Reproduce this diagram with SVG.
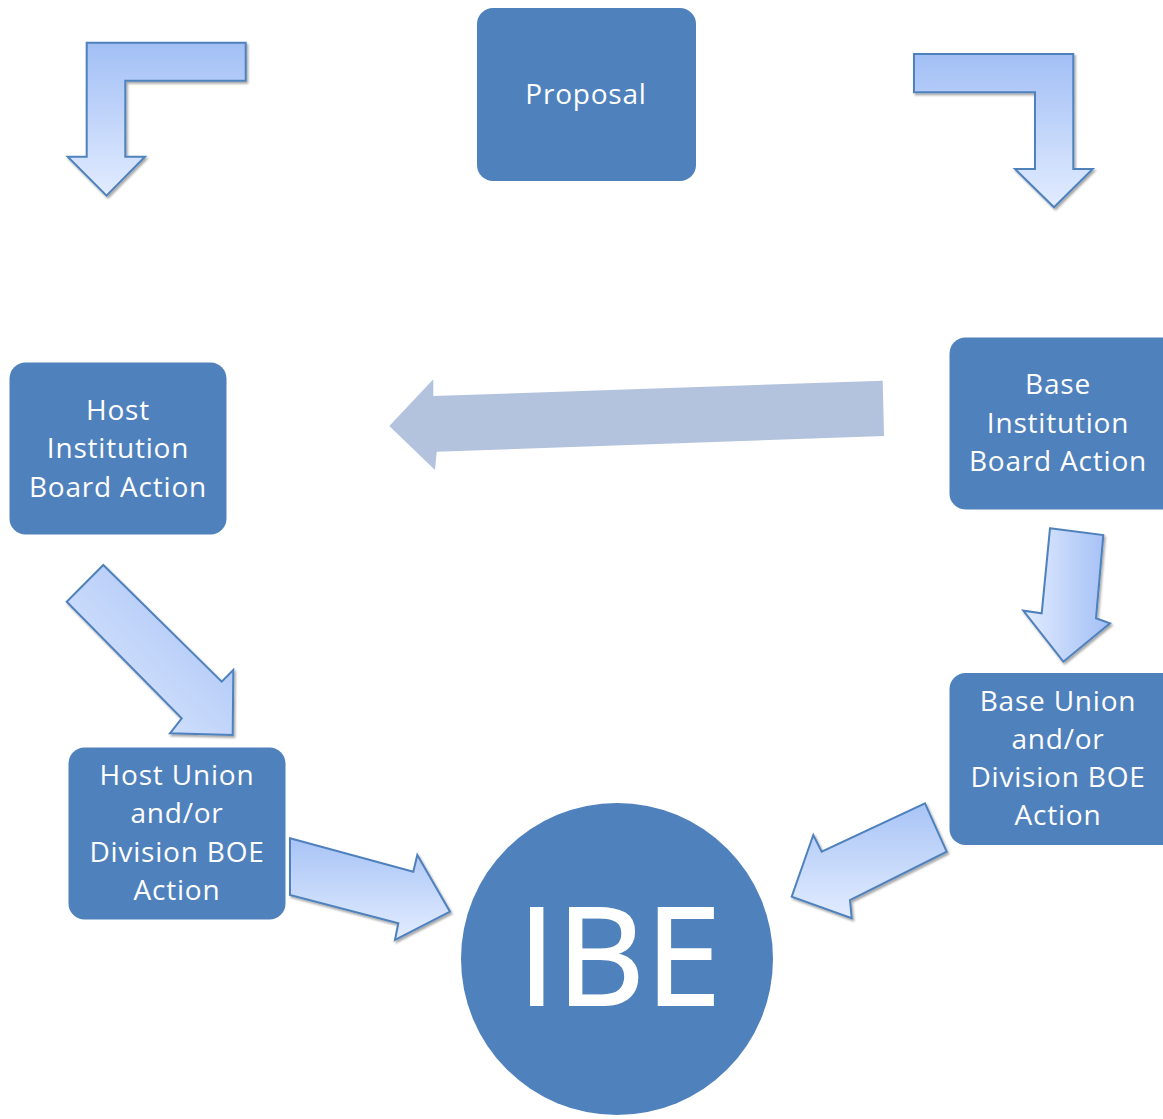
<svg xmlns="http://www.w3.org/2000/svg" width="1163" height="1119" viewBox="0 0 1163 1119">
<defs>
<linearGradient id="gv" x1="0" y1="0" x2="0" y2="1">
<stop offset="0" stop-color="#a2bff5"/>
<stop offset="1" stop-color="#e2ecff"/>
</linearGradient>
<linearGradient id="gdiag" x1="1" y1="0" x2="0" y2="1">
<stop offset="0" stop-color="#a2bff5"/>
<stop offset="1" stop-color="#e2ecff"/>
</linearGradient>
<linearGradient id="gh" x1="1" y1="0" x2="0" y2="0">
<stop offset="0" stop-color="#a2bff5"/>
<stop offset="1" stop-color="#e2ecff"/>
</linearGradient>
<linearGradient id="gup" x1="0" y1="0" x2="0" y2="1">
<stop offset="0" stop-color="#a8c4f6"/>
<stop offset="1" stop-color="#e2ecff"/>
</linearGradient>
<filter id="sh" x="-10%" y="-10%" width="130%" height="130%">
<feDropShadow dx="1.5" dy="2" stdDeviation="1" flood-color="#000" flood-opacity="0.35"/>
</filter>
</defs>
<style>
.box{fill:#4f81bd;}
.lbl{font-family:"Open Sans","Liberation Sans",sans-serif;font-size:28px;letter-spacing:0.8px;fill:#ffffff;text-anchor:middle;}
.arr{stroke:#4f81bd;stroke-width:2;stroke-linejoin:miter;filter:url(#sh);}
</style>

<g id="connectors">
<path class="arr" fill="url(#gv)" d="M86.7,42.7 L245.7,42.7 L245.7,80.7 L125.3,80.7 L125.3,156.7 L145,156.7 L106.5,195.7 L67.7,156.7 L86.7,156.7 Z"/>
<path class="arr" fill="url(#gv)" d="M914,54 L1073.3,54 L1073.3,169 L1092.7,169 L1054,207.3 L1015,169 L1035,169 L1035,92.3 L914,92.3 Z"/>
<path fill="#b3c3dd" d="M389.3,426 L433.3,379.3 L433.3,396 L882.7,380.7 L884,436 L436.7,451.7 L435,470 Z"/>
<path class="arr" fill="url(#gdiag)" d="M103.3,565 L221.7,681.7 L233.3,670 L232.7,735 L170,733.3 L181.7,718.3 L66.7,601.7 Z"/>
<path class="arr" fill="url(#gh)" d="M1050,528.3 L1103.3,535 L1096,618.3 L1110,623.3 L1063.3,661.7 L1023.3,610.7 L1041.7,613.3 Z"/>
<path class="arr" fill="url(#gup)" d="M290,838.3 L413.3,871.7 L417.3,855 L450,911.7 L395,940 L398.3,923.3 L290,895 Z"/>
<path class="arr" fill="url(#gup)" d="M925,803.3 L946.7,851.7 L850,900 L851.7,918.3 L791.7,896.7 L813.3,835 L821.7,851.7 Z"/>
</g>

<g id="proposal">
<rect class="box" x="477" y="8" width="219" height="173" rx="16"/>
<text class="lbl" x="586" y="104">Proposal</text>
</g>

<g id="host-institution">
<rect class="box" x="9.5" y="362.5" width="217" height="172" rx="16"/>
<text class="lbl" x="118" y="420">Host</text>
<text class="lbl" x="118" y="458.3">Institution</text>
<text class="lbl" x="118" y="496.6">Board Action</text>
</g>

<g id="base-institution">
<rect class="box" x="949.5" y="337.5" width="230" height="172" rx="16"/>
<text class="lbl" x="1058" y="394.3">Base</text>
<text class="lbl" x="1058" y="432.6">Institution</text>
<text class="lbl" x="1058" y="470.9">Board Action</text>
</g>

<g id="host-union">
<rect class="box" x="68.5" y="747.5" width="217" height="172" rx="16"/>
<text class="lbl" x="177" y="785">Host Union</text>
<text class="lbl" x="177" y="823.3">and/or</text>
<text class="lbl" x="177" y="861.6">Division BOE</text>
<text class="lbl" x="177" y="899.9">Action</text>
</g>

<g id="base-union">
<rect class="box" x="949.5" y="673" width="230" height="172" rx="16"/>
<text class="lbl" x="1058" y="710.5">Base Union</text>
<text class="lbl" x="1058" y="748.8">and/or</text>
<text class="lbl" x="1058" y="787.1">Division BOE</text>
<text class="lbl" x="1058" y="825.4">Action</text>
</g>

<g id="ibe">
<circle class="box" cx="617" cy="959" r="156"/>
<text x="620" y="1005" style="font-family:'Open Sans','Liberation Sans',sans-serif;font-size:136px;fill:#ffffff;stroke:#ffffff;stroke-width:2;text-anchor:middle;letter-spacing:1px">IBE</text>
</g>
</svg>
